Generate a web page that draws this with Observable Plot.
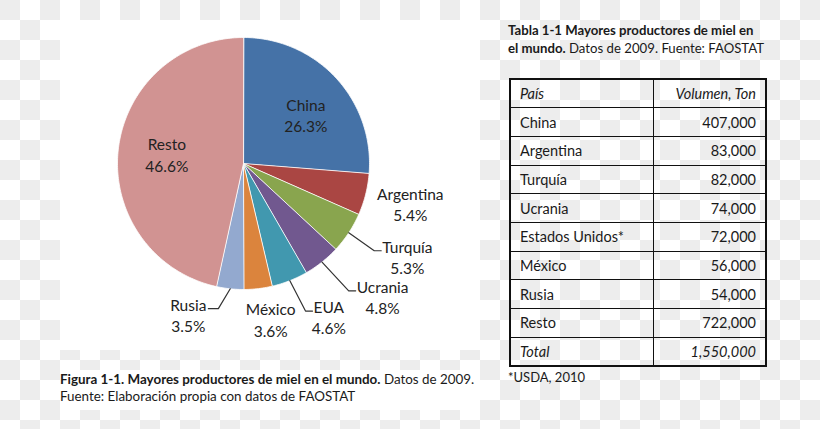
<!DOCTYPE html>
<html><head><meta charset="utf-8">
<script src="https://cdn.jsdelivr.net/npm/d3@7"></script>
<script src="https://cdn.jsdelivr.net/npm/@observablehq/plot@0.6"></script>
<style>
html,body{margin:0;padding:0;}
body{width:820px;height:429px;position:relative;overflow:hidden;font-family:Lato,"Open Sans",sans-serif;color:#1a1a1a;
  background:repeating-conic-gradient(#ffffff 0 25%, #ededed 0 50%) 0 0/40px 40px;}
.caja{position:absolute;background:#fff;}
#pie{position:absolute;left:60px;top:20px;}
#titulo{position:absolute;left:508px;top:21px;font-size:13.2px;line-height:18px;white-space:nowrap;}
#tabla{position:absolute;left:509px;top:78px;width:258px;border-collapse:collapse;font-size:14.5px;border:2px solid #111;}
#tabla td{border:1.5px solid #111;height:28.7px;padding:0 9px;box-sizing:border-box;}
#tabla td.v{text-align:right;}
#tabla tr.i td{font-style:italic;}
#nota{position:absolute;left:508px;top:369px;font-size:13px;}
#caption{position:absolute;left:60px;top:371px;font-size:13.4px;line-height:17px;white-space:nowrap;}
</style></head>
<body>
<div class="caja" style="left:60px;top:20px;width:420px;height:330px"></div>
<div class="caja" style="left:60px;top:370px;width:420px;height:40px"></div>
<div id="pie"></div>
<div id="titulo"><b>Tabla 1-1 Mayores productores de miel en<br>el mundo.</b> Datos de 2009. Fuente: FAOSTAT</div>
<table id="tabla"></table>
<div id="nota">*USDA, 2010</div>
<div id="caption"><b>Figura 1-1. Mayores productores de miel en el mundo.</b> Datos de 2009.<br>Fuente: Elaboración propia con datos de FAOSTAT</div>
<script>
// ---- datos ----
const paises = ["China", "Argentina", "Turquía", "Ucrania", "EUA", "México", "Rusia", "Resto"];
const paisesTabla = ["China", "Argentina", "Turquía", "Ucrania", "Estados Unidos*", "México", "Rusia", "Resto"];
const volumen = [407000, 83000, 82000, 74000, 72000, 56000, 54000, 722000];
const encabezados = ["País", "Volumen, Ton"];
const etiquetaTotal = "Total";
const colores = ["#4572A7", "#AA4643", "#89A54E", "#71588F", "#4198AF", "#DB843D", "#93A9CF", "#D19392"];
// ---- layout de etiquetas (radio relativo, dx px, dy px, lado de la guía) ----
const ajuste = [
  [0.62, 5, 4, null], [1.3, 8, 0, null], [1.3, 27, 3, "izq"], [1.3, 37, 5, "izq"],
  [1.3, 25, 1, "izq"], [1.3, 8, -7, null], [1.3, -38, -12, "der"], [0.62, 1, -1, null]
];

const R = 126, cx = 183, cy = 143, FS = 15.5, LH = 21.5;
const total = d3.sum(volumen);
const pct = d3.format(".1%");
const arcs = d3.pie().sort(null).value(d => d)(volumen);

const poly = [];
arcs.forEach((s, i) => {
  const n = Math.max(2, Math.ceil((s.endAngle - s.startAngle) / (Math.PI / 180)));
  poly.push({name: paises[i], x: 0, y: 0});
  for (let k = 0; k <= n; k++) {
    const a = s.startAngle + (s.endAngle - s.startAngle) * k / n;
    poly.push({name: paises[i], x: Math.sin(a), y: Math.cos(a)});
  }
});

const ctx = document.createElement("canvas").getContext("2d");
ctx.font = `${FS}px Lato`;
const labels = [], leaders = [];
arcs.forEach((s, i) => {
  const mid = (s.startAngle + s.endAngle) / 2;
  const [k, dx, dy, lado] = ajuste[i];
  const x = k * Math.sin(mid) + dx / R;
  const y = k * Math.cos(mid) - dy / R;
  labels.push({name: paises[i], x, y, text: paises[i] + "\n" + pct(volumen[i] / total)});
  if (lado) {
    const w = ctx.measureText(paises[i]).width;
    const ly = y + (LH / 2 - 5) / R;
    const end = lado === "izq" ? x - (w / 2 + 1) / R : x + (w / 2 + 2) / R;
    const elbow = lado === "izq" ? end - 7 / R : end + 10 / R;
    leaders.push({name: paises[i], x: Math.sin(mid), y: Math.cos(mid)});
    leaders.push({name: paises[i], x: elbow, y: ly});
    leaders.push({name: paises[i], x: end, y: ly});
  }
});

const chart = Plot.plot({
  width: 420, height: 330, margin: 0,
  style: {background: "white", overflow: "visible", fontFamily: "Lato, sans-serif"},
  x: {domain: [-1, 1], range: [cx - R, cx + R], axis: null},
  y: {domain: [-1, 1], range: [cy + R, cy - R], axis: null},
  color: {domain: paises, range: colores},
  marks: [
    Plot.line(poly, {x: "x", y: "y", z: "name", fill: "name", stroke: "white", strokeWidth: 0.8, curve: "linear-closed"}),
    Plot.line(leaders, {x: "x", y: "y", z: "name", stroke: "#333", strokeWidth: 1.2}),
    Plot.text(labels, {x: "x", y: "y", text: "text", fontSize: FS, lineHeight: LH / FS, fill: "#222", fontFamily: "Lato, sans-serif"})
  ]
});
document.getElementById("pie").append(chart);

// tabla
const fmt = d3.format(",");
const tabla = d3.select("#tabla");
const filas = [{a: encabezados[0], b: encabezados[1], i: true}]
  .concat(paisesTabla.map((p, j) => ({a: p, b: fmt(volumen[j]), i: false})))
  .concat([{a: etiquetaTotal, b: fmt(total), i: true}]);
const tr = tabla.selectAll("tr").data(filas).join("tr").attr("class", d => d.i ? "i" : null);
tr.append("td").style("width", "143px").text(d => d.a);
tr.append("td").attr("class", "v").text(d => d.b);
</script>
</body></html>
